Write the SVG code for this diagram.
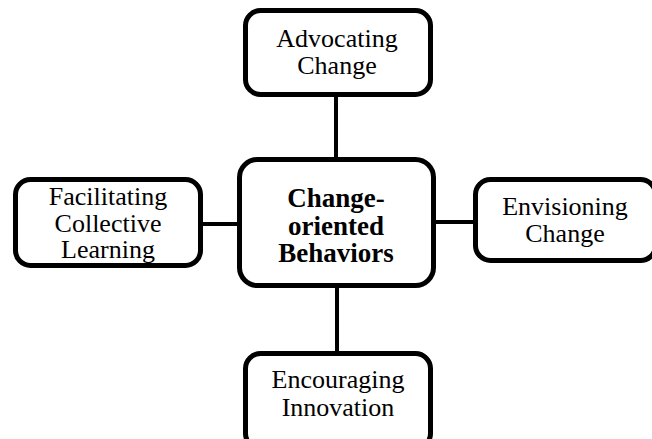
<svg xmlns="http://www.w3.org/2000/svg" width="652" height="439" viewBox="0 0 652 439">
  <style>
    .box { fill: #ffffff; stroke: #000000; stroke-width: 5; }
    .link { stroke: #000000; stroke-width: 4; fill: none; }
    .lbl { font-family: "Liberation Serif", "Times New Roman", serif; font-size: 26px; fill: #000000; text-anchor: middle; }
    .hub { font-family: "Liberation Serif", "Times New Roman", serif; font-size: 27px; font-weight: bold; fill: #000000; text-anchor: middle; }
  </style>
  <rect width="652" height="439" fill="#ffffff"/>

  <!-- spokes from the hub to each behavior -->
  <g id="connectors">
    <line class="link" x1="336" y1="95" x2="336" y2="160"/>
    <line class="link" x1="337" y1="285" x2="337" y2="354"/>
    <line class="link" x1="201" y1="224" x2="240" y2="224"/>
    <line class="link" x1="433" y1="222" x2="476" y2="222"/>
  </g>

  <g id="hub">
    <rect class="box" x="239.5" y="159.5" width="194" height="126" rx="18"/>
    <text class="hub" x="336" y="207">Change-</text>
    <text class="hub" x="336" y="235">oriented</text>
    <text class="hub" x="336" y="262">Behaviors</text>
  </g>

  <g id="advocating">
    <rect class="box" x="245.5" y="10.5" width="185" height="84" rx="15"/>
    <text class="lbl" x="337" y="47">Advocating</text>
    <text class="lbl" x="337" y="74">Change</text>
  </g>

  <g id="facilitating">
    <rect class="box" x="15.5" y="179.5" width="185" height="86" rx="15"/>
    <text class="lbl" x="108" y="205">Facilitating</text>
    <text class="lbl" x="108" y="231.5">Collective</text>
    <text class="lbl" x="108" y="258">Learning</text>
  </g>

  <g id="envisioning">
    <rect class="box" x="475.5" y="179.5" width="180" height="81" rx="15"/>
    <text class="lbl" x="565" y="215">Envisioning</text>
    <text class="lbl" x="565" y="242">Change</text>
  </g>

  <g id="encouraging">
    <rect class="box" x="245.5" y="353.5" width="185" height="95" rx="15"/>
    <text class="lbl" x="338" y="388">Encouraging</text>
    <text class="lbl" x="338" y="416">Innovation</text>
  </g>
</svg>
